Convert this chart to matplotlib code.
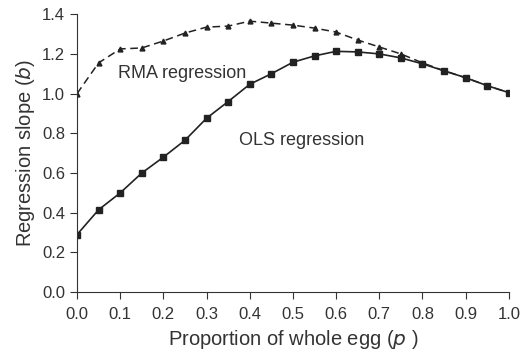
import matplotlib
matplotlib.use("Agg")
import matplotlib.pyplot as plt

p = [0.0, 0.05, 0.1, 0.15, 0.2, 0.25, 0.3, 0.35, 0.4, 0.45, 0.5,
     0.55, 0.6, 0.65, 0.7, 0.75, 0.8, 0.85, 0.9, 0.95, 1.0]
ols = [0.29, 0.415, 0.50, 0.60, 0.68, 0.765, 0.876, 0.96, 1.047, 1.10, 1.158,
       1.19, 1.213, 1.21, 1.20, 1.18, 1.15, 1.115, 1.08, 1.04, 1.005]
rma = [1.00, 1.155, 1.225, 1.23, 1.265, 1.305, 1.335, 1.34, 1.365, 1.355, 1.345,
       1.33, 1.31, 1.27, 1.235, 1.20, 1.155, 1.115, 1.08, 1.04, 1.005]
xticks = [0.0, 0.1, 0.2, 0.3, 0.4, 0.5, 0.6, 0.7, 0.8, 0.9, 1.0]
yticks = [0.0, 0.2, 0.4, 0.6, 0.8, 1.0, 1.2, 1.4]

plt.rcParams['font.family'] = ['Liberation Sans', 'DejaVu Sans']
fig = plt.figure(figsize=(5.24, 3.55), dpi=100)
ax = fig.add_axes([0.147, 0.177, 0.824, 0.783])

ax.plot(p, rma, color='#222222', lw=1.1, ls=(0, (5, 3)), marker='^', ms=3.5)
ax.plot(p, ols, color='#222222', lw=1.2, marker='s', ms=3.8)

ax.text(0.243, 1.10, 'RMA regression', ha='center', va='center', fontsize=13, color='#333333')
ax.text(0.52, 0.765, 'OLS regression', ha='center', va='center', fontsize=13, color='#333333')

ax.set_xlim(0, 1.0)
ax.set_ylim(0, 1.4)
ax.set_xticks(xticks)
ax.set_yticks(yticks)
ax.set_xticklabels([f'{v:.1f}' for v in xticks])
ax.set_yticklabels([f'{v:.1f}' for v in yticks])
ax.tick_params(direction='out', length=5, labelsize=12, colors='#333333')
ax.tick_params(axis='x', pad=6)
ax.spines['top'].set_visible(False)
ax.spines['right'].set_visible(False)
for s in ('left', 'bottom'):
    ax.spines[s].set_color('#333333')
ax.set_xlabel('Proportion of whole egg ($p$ )', fontsize=14.5, color='#333333', labelpad=4)
ax.set_ylabel('Regression slope ($b$)', fontsize=14.5, color='#333333')

fig.savefig('out.png', dpi=100)
